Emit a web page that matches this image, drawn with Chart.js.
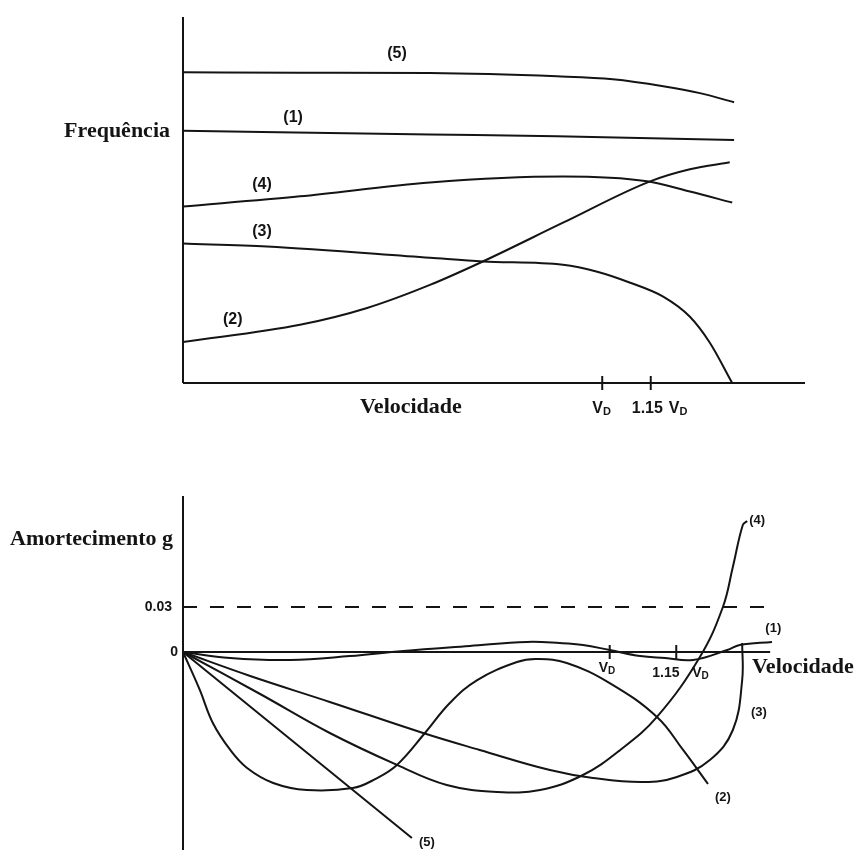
<!DOCTYPE html>
<html>
<head>
<meta charset="utf-8">
<script src="https://cdn.jsdelivr.net/npm/chart.js@4.4.0/dist/chart.umd.min.js"></script>
<style>
  html, body { margin: 0; padding: 0; background: #fff; }
  #wrap { position: relative; width: 861px; height: 850px; }
  canvas { position: absolute; left: 0; }
  #freqChart { top: 0; }
  #dampChart { top: 440px; }
</style>
</head>
<body>
<div id="wrap">
  <canvas id="freqChart" width="861" height="440"></canvas>
  <canvas id="dampChart" width="861" height="410"></canvas>
</div>
<script>
// Velocity runs 0..100 along the axis (arbitrary units), frequency 0..100
const freqV1 = [0, 39.7, 60.1, 88.6];
const freqF1 = [68.9, 67.9, 67.4, 66.4];
const freqV2 = [0, 18.8, 29.6, 39.7, 48.2, 61.1, 75.1, 81.5, 87.9];
const freqF2 = [11.2, 15.9, 20.5, 26.8, 33.2, 43.8, 55.1, 58.4, 60.3];
const freqV3 = [0, 13.5, 39.7, 48.2, 61.1, 66.6, 71.9, 77.2, 81.5, 84.7, 88.3];
const freqF3 = [38.1, 37.3, 34.2, 33.2, 32.3, 30.4, 27.4, 23.6, 18.1, 11.0, 0];
const freqV4 = [0, 18.8, 39.7, 61.1, 74.6, 81.5, 88.3];
const freqF4 = [48.2, 51.0, 54.8, 56.4, 55.1, 52.3, 49.3];
const freqV5 = [0, 18.8, 39.7, 60.1, 69.1, 77.2, 83.1, 88.6];
const freqF5 = [84.9, 84.8, 84.7, 83.8, 83.0, 81.1, 79.2, 76.7];

// Damping g against the same velocity units
const dampV1 = [0, 7.6, 17.2, 26.8, 35.4, 46.1, 55.3, 60.6, 64.3, 68.6, 73.5, 77.5, 82.0, 87.5, 89.5, 94.7];
const dampG1 = [0, -0.004, -0.0053, -0.0027, 0.0007, 0.004, 0.0067, 0.006, 0.0047, 0.0013, -0.0027, -0.004, -0.0053, 0.0013, 0.0047, 0.0067];
const dampV2 = [0, 2.7, 4.8, 7.6, 10.3, 14.5, 19.9, 27.3, 30.9, 34.4, 38.9, 42.9, 47.3, 53.7, 56.9, 61.7, 68.6, 76.2, 80.4, 84.4];
const dampG2 = [0, -0.0253, -0.0473, -0.0653, -0.0773, -0.0873, -0.092, -0.0907, -0.0847, -0.0753, -0.054, -0.034, -0.0187, -0.0067, -0.0047, -0.0073, -0.0207, -0.0433, -0.0653, -0.088];
const dampV3 = [0, 10.8, 23.6, 38.6, 47.7, 59.0, 65.9, 74.0, 79.4, 84.7, 88.4, 89.9, 89.9];
const dampG3 = [0, -0.016, -0.0333, -0.054, -0.0653, -0.0787, -0.084, -0.0867, -0.0833, -0.072, -0.052, -0.0187, 0.006];
const dampV4 = [0, 12.4, 23.6, 34.4, 42.4, 50.5, 57.4, 64.3, 70.3, 76.2, 83.1, 86.8, 88.4, 90.0, 90.7];
const dampG4 = [0, -0.028, -0.054, -0.0753, -0.0887, -0.0933, -0.092, -0.082, -0.0653, -0.0433, -0.0033, 0.03, 0.0567, 0.0847, 0.0873];
const dampV5 = [0, 18.8, 36.8];
const dampG5 = [0, -0.0633, -0.124];

const gLimit = 0.03;
const modeNames = ['(1)', '(2)', '(3)', '(4)', '(5)'];
const freqTickPos = [67.4, 75.2];
const dampTickPos = [68.6, 79.3];

const INK = '#141414';
const serif = '"Liberation Serif", "Times New Roman", serif';
const sans = '"Liberation Sans", Arial, sans-serif';

function toPoints(xs, ys) {
    return xs.map((v, i) => ({ x: v, y: ys[i] }));
}

function curve(xs, ys, smooth) {
    const ds = {
        data: toPoints(xs, ys),
        showLine: true,
        borderColor: INK,
        borderWidth: 2,
        pointRadius: 0,
        fill: false
    };
    if (smooth === 'monotone') ds.cubicInterpolationMode = 'monotone';
    else ds.tension = smooth;
    return ds;
}

// "prefix V" with a subscript D
function drawTickLabel(ctx, t, px, py) {
    ctx.font = 'bold ' + t.size + 'px ' + sans;
    ctx.textAlign = 'left';
    ctx.textBaseline = 'alphabetic';
    if (t.prefix) ctx.fillText(t.prefix, px + t.dx, py);
    const vx = px + t.vdx;
    ctx.fillText('V', vx, py);
    const w = ctx.measureText('V').width;
    ctx.font = 'bold ' + Math.round(t.size * 0.68) + 'px ' + sans;
    ctx.fillText('D', vx + w, py + 2);
}

// axes, ticks and texts drawn on top of the curves
const decorPlugin = {
    id: 'decor',
    afterDatasetsDraw(chart, args, opts) {
        if (!opts || !opts.ticks) return;
        const { ctx, chartArea } = chart;
        const x = chart.scales.x, y = chart.scales.y;
        const x0 = x.getPixelForValue(0);
        const y0 = y.getPixelForValue(0);
        ctx.save();
        ctx.strokeStyle = INK;
        ctx.fillStyle = INK;
        ctx.lineWidth = 2;
        ctx.setLineDash([]);
        ctx.beginPath();
        ctx.moveTo(x0, chartArea.top);
        ctx.lineTo(x0, chartArea.bottom);
        ctx.moveTo(x0, y0);
        ctx.lineTo(x.getPixelForValue(opts.axisEnd), y0);
        ctx.stroke();

        opts.ticks.forEach(t => {
            const px = x.getPixelForValue(t.pos);
            ctx.beginPath();
            ctx.moveTo(px, y0 - 7);
            ctx.lineTo(px, y0 + 7);
            ctx.stroke();
            drawTickLabel(ctx, t, px, y0 + t.dy);
        });

        ctx.font = 'bold ' + opts.modeSize + 'px ' + sans;
        ctx.textAlign = 'center';
        ctx.textBaseline = 'middle';
        opts.modes.forEach(m => {
            ctx.fillText(m.text, x.getPixelForValue(m.x), y.getPixelForValue(m.y));
        });

        (opts.values || []).forEach(v => {
            ctx.font = 'bold 14px ' + sans;
            ctx.textAlign = 'right';
            ctx.textBaseline = 'middle';
            ctx.fillText(v.text, x0 - v.dx, y.getPixelForValue(v.y));
        });

        ctx.font = 'bold 22px ' + serif;
        ctx.textBaseline = 'alphabetic';
        opts.titles.forEach(t => {
            ctx.textAlign = t.align;
            ctx.fillText(t.text, t.x, t.y);
        });
        ctx.restore();
    }
};

function baseOptions(padding, yMin, yMax, decor) {
    return {
        responsive: false,
        animation: false,
        devicePixelRatio: 1,
        layout: { padding: padding },
        plugins: {
            legend: { display: false },
            tooltip: { enabled: false },
            decor: decor
        },
        scales: {
            x: { type: 'linear', min: 0, max: 100, display: false },
            y: { type: 'linear', min: yMin, max: yMax, display: false }
        }
    };
}

// Frequency vs velocity
new Chart(document.getElementById('freqChart'), {
    type: 'scatter',
    plugins: [decorPlugin],
    data: {
        datasets: [
            curve(freqV1, freqF1, 'monotone'),
            curve(freqV2, freqF2, 'monotone'),
            curve(freqV3, freqF3, 'monotone'),
            curve(freqV4, freqF4, 'monotone'),
            curve(freqV5, freqF5, 'monotone')
        ]
    },
    options: baseOptions({ left: 183, right: 56, top: 17, bottom: 57 }, 0, 100, {
        axisEnd: 100,
        ticks: [
            { pos: freqTickPos[0], vdx: -10, dy: 30, size: 16 },
            { pos: freqTickPos[1], prefix: '1.15', dx: -19, vdx: 18, dy: 30, size: 16 }
        ],
        modeSize: 16,
        modes: [
            { text: modeNames[0], x: 17.7, y: 72.6 },
            { text: modeNames[1], x: 8.0, y: 17.3 },
            { text: modeNames[2], x: 12.7, y: 41.4 },
            { text: modeNames[3], x: 12.7, y: 54.2 },
            { text: modeNames[4], x: 34.4, y: 89.9 }
        ],
        titles: [
            { text: 'Frequência', x: 170, y: 137, align: 'right' },
            { text: 'Velocidade', x: 360, y: 413, align: 'left' }
        ]
    })
});

// Damping vs velocity
const limitLine = {
    data: toPoints([0, 94.8], [gLimit, gLimit]),
    showLine: true,
    borderColor: INK,
    borderWidth: 2,
    borderDash: [14, 13],
    pointRadius: 0,
    fill: false
};

new Chart(document.getElementById('dampChart'), {
    type: 'scatter',
    plugins: [decorPlugin],
    data: {
        datasets: [
            limitLine,
            curve(dampV1, dampG1, 0.4),
            curve(dampV2, dampG2, 0.4),
            curve(dampV3, dampG3, 0.4),
            curve(dampV4, dampG4, 0.4),
            curve(dampV5, dampG5, 0)
        ]
    },
    options: baseOptions({ left: 183, right: 56, top: 56, bottom: 0 }, -0.132, 0.104, {
        axisEnd: 94.4,
        ticks: [
            { pos: dampTickPos[0], vdx: -11, dy: 20, size: 14 },
            { pos: dampTickPos[1], prefix: '1.15', dx: -24, vdx: 16, dy: 25, size: 14 }
        ],
        modeSize: 13,
        modes: [
            { text: modeNames[0], x: 94.9, y: 0.016 },
            { text: modeNames[1], x: 86.8, y: -0.0967 },
            { text: modeNames[2], x: 92.6, y: -0.04 },
            { text: modeNames[3], x: 92.3, y: 0.088 },
            { text: modeNames[4], x: 39.2, y: -0.1267 }
        ],
        values: [
            { text: '0.03', y: gLimit, dx: 11 },
            { text: '0', y: 0, dx: 5 }
        ],
        titles: [
            { text: 'Amortecimento g', x: 10, y: 105, align: 'left' },
            { text: 'Velocidade', x: 752, y: 233, align: 'left' }
        ]
    })
});
</script>
</body>
</html>
